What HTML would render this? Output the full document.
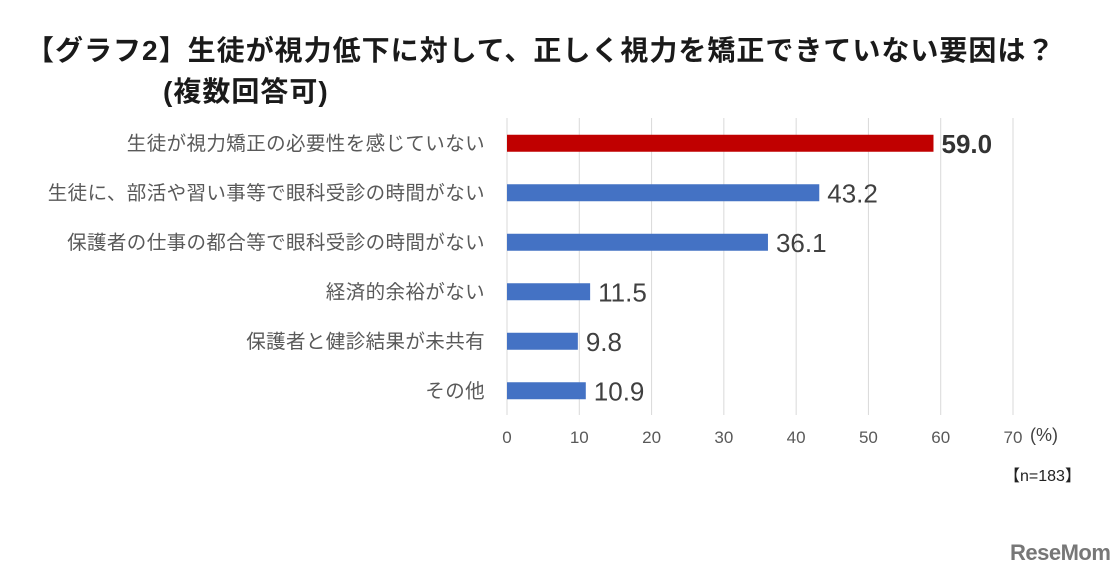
<!DOCTYPE html>
<html><head><meta charset="utf-8"><style>
body{margin:0;background:#fff;width:1120px;height:576px;overflow:hidden;position:relative;font-family:"Liberation Sans","Noto Sans CJK JP",sans-serif}
.t{position:absolute;white-space:nowrap;font-weight:bold;color:#1a1a1a;font-size:28px;line-height:32px}
</style></head><body>
<div class="t" style="left:26px;top:35px;letter-spacing:1px">【グラフ2】生徒が視力低下に対して、正しく視力を矯正できていない要因は？</div>
<div class="t" style="left:163px;top:76px;letter-spacing:1px">(複数回答可)</div>
<svg id="c" width="1120" height="576" style="position:absolute;left:0;top:0"></svg>
<div style="position:absolute;left:1004px;top:462px;font-size:16px;color:#222">【n=183】</div>
<div style="position:absolute;left:1010px;top:540px;font-size:22px;font-weight:bold;color:#777;letter-spacing:-0.5px">ReseMom</div>
<script>
const categories=["生徒が視力矯正の必要性を感じていない","生徒に、部活や習い事等で眼科受診の時間がない","保護者の仕事の都合等で眼科受診の時間がない","経済的余裕がない","保護者と健診結果が未共有","その他"];
const values=[59.0,43.2,36.1,11.5,9.8,10.9];
const ticks=[0,10,20,30,40,50,60,70];
const NS="http://www.w3.org/2000/svg",svg=document.getElementById('c');
const x0=507,x1=1013,top0=118,band=49.5;
const xs=v=>x0+(x1-x0)*v/70;
const yc=i=>top0+band*i+band/2;
function mk(t,a,txt){const e=document.createElementNS(NS,t);for(const k in a)e.setAttribute(k,a[k]);if(txt!=null)e.textContent=txt;svg.appendChild(e);return e;}
ticks.forEach(t=>{
 const g=mk('line',{x1:xs(t),x2:xs(t),y1:top0,y2:top0+band*categories.length,stroke:'#d9d9d9','stroke-width':1});
 
 
 const l=mk('text',{x:xs(t),y:443,'text-anchor':'middle','font-size':17,fill:'#595959'},t);
 
 
});
const u=mk('text',{x:1030,y:441,'font-size':18,fill:'#404040'},'(%)');


categories.forEach((c,i)=>{
 const y=yc(i);
 const cl=mk('text',{x:485,y:y+7,'text-anchor':'end','font-size':19.5,fill:'#595959','letter-spacing':0.4},c);
 
 
 const b=mk('rect',{x:x0,y:y-8,width:xs(values[i])-x0,height:17,fill:i==0?'#c00000':'#4472c4'});
 
 
 const v=mk('text',{x:xs(values[i])+8,y:y+10,'font-size':26,fill:i==0?'#333':'#404040','font-weight':i==0?'bold':'normal'},values[i].toFixed(1));
 
 
});
</script>
</body></html>
